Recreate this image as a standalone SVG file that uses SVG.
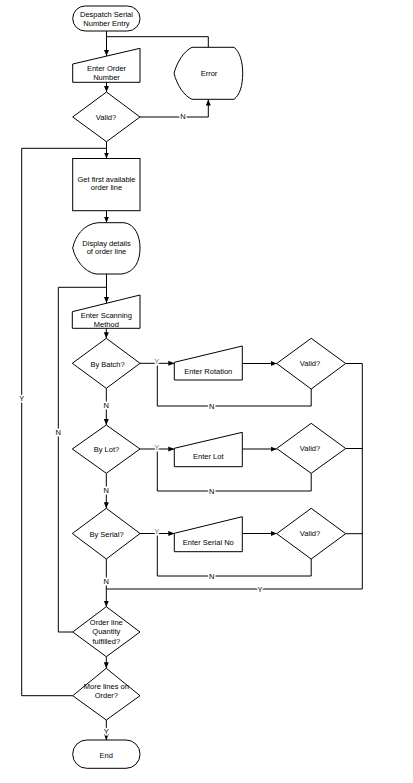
<svg xmlns="http://www.w3.org/2000/svg" width="413" height="783" viewBox="0 0 413 783">
<style>
.s{fill:#fff;stroke:#000;stroke-width:1}
.t{font-family:"Liberation Sans",Arial,sans-serif;font-size:7.5px;fill:#000;text-anchor:middle}
.c{fill:none;stroke:#000;stroke-width:1}
.l{font-family:"Liberation Sans",Arial,sans-serif;font-size:7.5px;fill:#000;text-anchor:middle;stroke:#fff;stroke-width:3;paint-order:stroke}
.g{fill:#777}
</style>
<defs>
<marker id="a" viewBox="0 0 6 6" refX="6" refY="3" markerWidth="6" markerHeight="6" markerUnits="userSpaceOnUse" orient="auto">
<path d="M0,0.5 L6,3 L0,5.5 Z" fill="#000"/>
</marker>
</defs>
<rect width="413" height="783" fill="#fff"/>
<g id="connectors">
<path class="c" d="M106.5,31 V56" marker-end="url(#a)"/>
<path class="c" d="M106.5,36.7 H208.3 V47.3"/>
<path class="c" d="M106.5,82 V92" marker-end="url(#a)"/>
<path class="c" d="M140,117 H208.3 V99.5" marker-end="url(#a)"/>
<path class="c" d="M106.5,141.7 V158.5" marker-end="url(#a)"/>
<path class="c" d="M72.7,695.7 H21.7 V148.3 H106.5"/>
<path class="c" d="M106.5,210.7 V222.7" marker-end="url(#a)"/>
<path class="c" d="M106.5,274 V303" marker-end="url(#a)"/>
<path class="c" d="M72.7,632 H58.3 V287.3 H106.5"/>
<path class="c" d="M106.3,328.3 V338.3" marker-end="url(#a)"/>
<path class="c" d="M140,363.3 H174.3" marker-end="url(#a)"/>
<path class="c" d="M242.3,363.5 H276.7" marker-end="url(#a)"/>
<path class="c" d="M345.7,363.5 H362.3 V589 H106.3"/>
<path class="c" d="M311.2,389 V406 H157.3 V363.3"/>
<path class="c" d="M106.3,388.3 V425" marker-end="url(#a)"/>
<path class="c" d="M140,449 H174.3" marker-end="url(#a)"/>
<path class="c" d="M242.3,449 H276.7" marker-end="url(#a)"/>
<path class="c" d="M345.7,448.5 H362.3"/>
<path class="c" d="M311.2,473.3 V491 H157.3 V449"/>
<path class="c" d="M106.3,473.3 V508.3" marker-end="url(#a)"/>
<path class="c" d="M140,533.5 H174.3" marker-end="url(#a)"/>
<path class="c" d="M242.3,533.5 H276.7" marker-end="url(#a)"/>
<path class="c" d="M345.7,533.7 H362.3"/>
<path class="c" d="M311.2,559 V576 H157.3 V533.5"/>
<path class="c" d="M106.3,559 V606.7" marker-end="url(#a)"/>
<path class="c" d="M106.3,656.7 V668.3" marker-end="url(#a)"/>
<path class="c" d="M106.3,720 V740" marker-end="url(#a)"/>
<text class="l" x="183" y="119.2">N</text>
<text class="l" x="21.7" y="401">Y</text>
<text class="l" x="58.3" y="435">N</text>
<text class="l g" x="156.7" y="364">Y</text>
<text class="l" x="211.7" y="408.7">N</text>
<text class="l" x="106.3" y="408">N</text>
<text class="l g" x="156.7" y="449.7">Y</text>
<text class="l" x="211.7" y="493.7">N</text>
<text class="l" x="106.3" y="493">N</text>
<text class="l g" x="156.7" y="534.3">Y</text>
<text class="l" x="211.7" y="578.7">N</text>
<text class="l" x="106.3" y="583.7">N</text>
<text class="l" x="260" y="591.7">Y</text>
<text class="l" x="106.3" y="733.7">Y</text>
</g>
<g id="start">
<rect class="s" x="72.7" y="6" width="67.3" height="25" rx="12.5"/>
<text class="t" x="106.5" y="16.7">Despatch Serial</text>
<text class="t" x="106.5" y="26">Number Entry</text>
</g>
<g id="enter-order">
<path class="s" d="M72.7,64 L140,48.3 V82.3 H72.7 Z"/>
<text class="t" x="106.5" y="71">Enter Order</text>
<text class="t" x="106.5" y="80">Number</text>
</g>
<g id="valid-order">
<path class="s" d="M106.5,92 L140,117 L106.5,141.7 L72.7,117 Z"/>
<text class="t" x="106" y="119.7">Valid?</text>
</g>
<g id="error">
<path class="s" d="M174,73.3 C177,62 184,51 192,47.3 L234,47.3 C240,52 242.7,62 242.7,73.3 C242.7,85 240,95 234,99.3 L192,99.3 C184,96 177,85 174,73.3 Z"/>
<text class="t" x="209" y="76">Error</text>
</g>
<g id="get-line">
<rect class="s" x="72.7" y="158.5" width="67.3" height="52.2"/>
<text class="t" x="106.5" y="181.7">Get first available</text>
<text class="t" x="106.5" y="190.4">order line</text>
</g>
<g id="display-details">
<path class="s" d="M72.7,248 C75,237 83,224 98,222.7 L124,222.7 C135,224 140,236 140,248 C140,261 135,272 122,274 L96,274 C84,272 75,259 72.7,248 Z"/>
<text class="t" x="106.5" y="246">Display details</text>
<text class="t" x="106.5" y="254.4">of order line</text>
</g>
<g id="enter-scanning">
<path class="s" d="M72.3,311.7 L140,295 V328.3 H72.3 Z"/>
<text class="t" x="106.3" y="318.4">Enter Scanning</text>
<text class="t" x="106.3" y="327.4">Method</text>
</g>
<g id="by-batch">
<path class="s" d="M106.3,338.3 L140,363.3 L106.3,388.3 L72.3,363.3 Z"/>
<text class="t" x="107.5" y="367">By Batch?</text>
</g>
<g id="enter-rotation">
<path class="s" d="M174.3,362.3 L242.3,346 V380 H174.3 Z"/>
<text class="t" x="208.3" y="374.3">Enter Rotation</text>
</g>
<g id="valid-rotation">
<path class="s" d="M311.2,338.3 L345.7,363.5 L311.2,389 L276.7,363.5 Z"/>
<text class="t" x="310" y="366">Valid?</text>
</g>
<g id="by-lot">
<path class="s" d="M106.3,425 L140,449 L106.3,473.3 L72.3,449 Z"/>
<text class="t" x="106.5" y="451.5">By Lot?</text>
</g>
<g id="enter-lot">
<path class="s" d="M174.3,448.3 L242.3,432.3 V466.7 H174.3 Z"/>
<text class="t" x="208.3" y="458.7">Enter Lot</text>
</g>
<g id="valid-lot">
<path class="s" d="M311.2,423.3 L345.7,448.5 L311.2,473.3 L276.7,448.5 Z"/>
<text class="t" x="310" y="451">Valid?</text>
</g>
<g id="by-serial">
<path class="s" d="M106.3,508.3 L140,533.5 L106.3,559 L72.3,533.5 Z"/>
<text class="t" x="106.5" y="536.7">By Serial?</text>
</g>
<g id="enter-serial">
<path class="s" d="M174.3,533.3 L242.3,516.7 V551.7 H174.3 Z"/>
<text class="t" x="208.3" y="545.4">Enter Serial No</text>
</g>
<g id="valid-serial">
<path class="s" d="M311.2,508.3 L345.7,533.7 L311.2,559 L276.7,533.7 Z"/>
<text class="t" x="310" y="536">Valid?</text>
</g>
<g id="order-line-fulfilled">
<path class="s" d="M106.3,606.7 L140,632 L106.3,656.7 L72.7,632 Z"/>
<text class="t" x="106.3" y="625">Order line</text>
<text class="t" x="106.3" y="634.4">Quantity</text>
<text class="t" x="106.3" y="643.7">fulfilled?</text>
</g>
<g id="more-lines">
<path class="s" d="M106.3,668.3 L140,695.7 L106.3,720 L72.7,695.7 Z"/>
<text class="t" x="106.3" y="688.7">More lines on</text>
<text class="t" x="106.3" y="697.7">Order?</text>
</g>
<g id="end">
<rect class="s" x="72.7" y="740" width="67.3" height="28.3" rx="14"/>
<text class="t" x="106.3" y="757.7">End</text>
</g>
</svg>
